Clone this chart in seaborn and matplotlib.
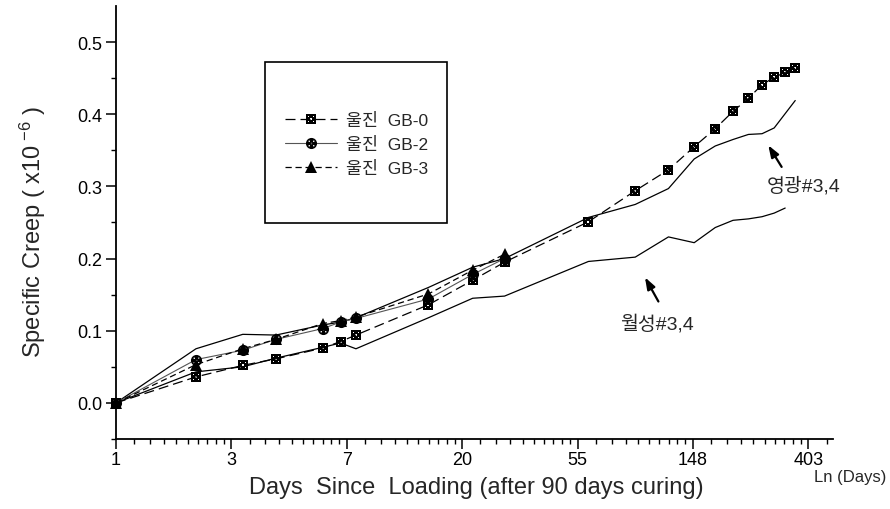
import numpy as np
import pandas as pd
import matplotlib
matplotlib.use("Agg")
import matplotlib.pyplot as plt
import seaborn as sns
from matplotlib.path import Path
from matplotlib.patches import Rectangle
from matplotlib.ticker import FixedLocator, NullFormatter

# ---------------- data ----------------
days_gb0 = [1, 2, 3, 4, 6, 7, 8, 15, 22, 29, 60, 90, 120, 150, 180, 210, 240, 270, 300, 330, 360]
gb0 = [0.0, 0.036, 0.052, 0.061, 0.076, 0.085, 0.094, 0.136, 0.170, 0.195, 0.251, 0.294,
       0.323, 0.355, 0.380, 0.404, 0.422, 0.441, 0.451, 0.458, 0.464]

days_gb = [1, 2, 3, 4, 6, 7, 8, 15, 22, 29]
gb2 = [0.0, 0.060, 0.073, 0.088, 0.103, 0.112, 0.117, 0.144, 0.178, 0.200]
gb3 = [0.0, 0.053, 0.075, 0.088, 0.110, 0.114, 0.119, 0.151, 0.184, 0.206]

days_yg = [1, 2, 3, 4, 6, 7, 8, 15, 22, 29, 60, 90, 120, 150, 180, 210, 240, 270, 300, 360]
yg = [0.0, 0.075, 0.095, 0.094, 0.108, 0.112, 0.118, 0.160, 0.188, 0.200, 0.257, 0.275,
      0.297, 0.338, 0.356, 0.365, 0.372, 0.373, 0.381, 0.419]

days_ws = [1, 2, 3, 4, 6, 7, 8, 15, 22, 29, 60, 90, 120, 150, 180, 210, 240, 270, 300, 330]
ws = [0.0, 0.043, 0.050, 0.062, 0.077, 0.083, 0.075, 0.118, 0.145, 0.148, 0.196, 0.202,
      0.230, 0.222, 0.243, 0.253, 0.255, 0.258, 0.263, 0.270]

series_labels = ["울진  GB-0", "울진  GB-2", "울진  GB-3"]
xtick_vals = [1, np.e, np.e ** 2, np.e ** 3, np.e ** 4, np.e ** 5, np.e ** 6]
xtick_labels = ["1", "3", "7", "20", "55", "148", "403"]
ytick_vals = [0.0, 0.1, 0.2, 0.3, 0.4, 0.5]
ytick_labels = ["0.0", "0.1", "0.2", "0.3", "0.4", "0.5"]

# ---------------- style ----------------
sns.set_style("ticks")
plt.rcParams["font.family"] = ["Liberation Sans", "Noto Sans CJK KR"]
plt.rcParams["mathtext.fontset"] = "custom"
plt.rcParams["mathtext.rm"] = "Liberation Sans"
plt.rcParams["mathtext.it"] = "Liberation Sans:italic"
plt.rcParams["mathtext.bf"] = "Liberation Sans:bold"


def holed_marker(outer, centers, h):
    paths = [outer]
    for cx, cy in centers:
        v = [(cx - h, cy - h), (cx - h, cy + h), (cx + h, cy + h), (cx + h, cy - h), (cx - h, cy - h)]
        paths.append(Path(v, [Path.MOVETO, Path.LINETO, Path.LINETO, Path.LINETO, Path.CLOSEPOLY]))
    return Path.make_compound_path(*paths)


sq_outer = Path([(-1, -1), (1, -1), (1, 1), (-1, 1), (-1, -1)],
                [Path.MOVETO, Path.LINETO, Path.LINETO, Path.LINETO, Path.CLOSEPOLY])
square_marker = holed_marker(sq_outer, [(0, 0), (-0.48, -0.48), (0.48, -0.48), (-0.48, 0.48), (0.48, 0.48)], 0.14)
circle_marker = holed_marker(Path.unit_circle(),
                             [(0, 0), (-0.4, -0.4), (0.4, -0.4), (-0.4, 0.4), (0.4, 0.4)], 0.12)

fig = plt.figure(figsize=(8.9, 5.1), dpi=100)
ax = fig.add_axes([0.1303, 0.1373, 0.8056, 0.8490])
ax.set_xscale("log", base=np.e)

# reference lines
sns.lineplot(x=days_yg, y=yg, ax=ax, color="black", lw=0.9, estimator=None, legend=False)
sns.lineplot(x=days_ws, y=ws, ax=ax, color="black", lw=0.9, estimator=None, legend=False)

sns.lineplot(x=days_gb0, y=gb0, ax=ax, color="black", lw=0.9, estimator=None,
             linestyle=(0, (8, 4)), marker=square_marker, markersize=7.5, markeredgewidth=0,
             markerfacecolor="black", legend=False)
l_gb0 = ax.lines[-1]
sns.lineplot(x=days_gb, y=gb2, ax=ax, color="#555555", lw=0.8, estimator=None,
             marker=circle_marker, markersize=8, markeredgewidth=0,
             markerfacecolor="black", legend=False)
l_gb2 = ax.lines[-1]
sns.lineplot(x=days_gb, y=gb3, ax=ax, color="black", lw=0.9, estimator=None,
             linestyle=(0, (5, 3)), marker="^", markersize=9, markeredgewidth=0,
             markerfacecolor="black", legend=False)
l_gb3 = ax.lines[-1]

for ln in ax.lines:
    ln.set_clip_on(False)

# axes limits / ticks
ax.set_xlim(1, np.exp(6.213))
ax.set_ylim(-0.05, 0.55)
ax.set_xticks(xtick_vals, labels=xtick_labels)
minor = []
for n in range(7):
    a, b = np.exp(n), np.exp(n + 1)
    minor += [a + k * (b - a) / 10 for k in range(1, 10)]
minor = [m for m in minor if m < np.exp(6.213)]
ax.xaxis.set_minor_locator(FixedLocator(minor))
ax.xaxis.set_minor_formatter(NullFormatter())
ax.set_yticks(ytick_vals, labels=ytick_labels)
ax.set_yticks(np.arange(-0.05, 0.5, 0.1), minor=True)

ax.tick_params(axis="both", which="major", direction="out", length=7, width=1.1,
               labelsize=13, colors="black")
ax.tick_params(axis="x", which="major", pad=2)
ax.tick_params(axis="y", which="major", pad=3)
ax.tick_params(axis="both", which="minor", direction="out", length=3.6, width=1.0, colors="black")

sns.despine(ax=ax)
for s in ["left", "bottom"]:
    ax.spines[s].set_linewidth(1.3)
    ax.spines[s].set_color("black")

ax.set_xlabel("Days  Since  Loading (after 90 days curing)", fontsize=17)
ax.xaxis.set_label_coords(0.503, -0.086)
ax.set_ylabel("Specific Creep ( x10$^{\\ \\mathrm{-6}}$ )", fontsize=17)
ax.yaxis.set_label_coords(-0.095, 0.48)

fig.text(0.955, 0.0647, "Ln (Days)", fontsize=12, ha="center", va="center")

# legend
ax.add_patch(Rectangle((0.2078, 0.4988), 0.2538, 0.3719, transform=ax.transAxes,
                       fill=False, lw=1.2, edgecolor="black", clip_on=False))
ax.legend([l_gb0, l_gb2, l_gb3], series_labels, loc="center left",
          bbox_to_anchor=(0.2357, 0.681), frameon=False, fontsize=12.5,
          handlelength=3.0, handletextpad=0.5, labelspacing=0.45,
          borderpad=0, borderaxespad=0)

# annotations
ax.annotate("", xy=(285, 0.357), xytext=(320, 0.327),
            arrowprops=dict(arrowstyle="-|>,head_length=0.7,head_width=0.25",
                            color="black", lw=1.6, shrinkA=0, shrinkB=0))
ax.text(387, 0.301, "영광#3,4", fontsize=14, ha="center", va="center")
ax.annotate("", xy=(97.9, 0.174), xytext=(110, 0.1405),
            arrowprops=dict(arrowstyle="-|>,head_length=0.7,head_width=0.25",
                            color="black", lw=1.6, shrinkA=0, shrinkB=0))
ax.text(109, 0.111, "월성#3,4", fontsize=14, ha="center", va="center")

fig.savefig("out.png", dpi=100)
